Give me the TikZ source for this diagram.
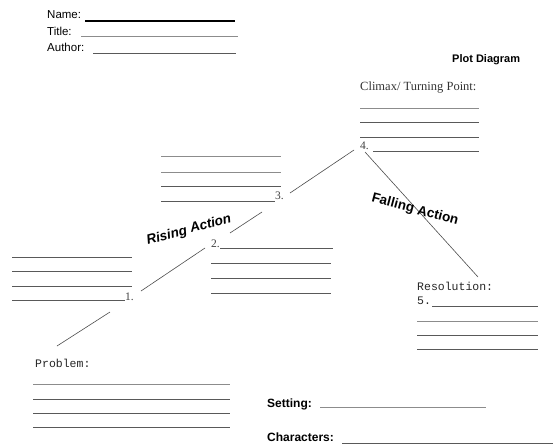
\documentclass[tikz,border=0pt]{standalone}
\usepackage{fontspec}
\setmainfont{Liberation Sans}
\newfontfamily\serifnum{Liberation Serif}
\newfontfamily\typewr{Liberation Mono}
\usepackage{xcolor}
\definecolor{rulegray}{rgb}{0.35,0.35,0.35}
\definecolor{lightrule}{rgb}{0.55,0.55,0.55}
\definecolor{plotgray}{rgb}{0.3,0.3,0.3}
\tikzset{
  rule/.style={rulegray,line width=0.9pt},
  lrule/.style={lightrule,line width=0.9pt},
  plotline/.style={plotgray,line width=0.6pt},
  hand/.style={anchor=base west,inner sep=0pt,font=\fontsize{11.5}{13}\selectfont},
  numtxt/.style={anchor=base west,inner sep=0pt,text=black!75,font=\serifnum\fontsize{11.5}{13}\selectfont},
  monotxt/.style={anchor=base west,inner sep=0pt,text=black!85,font=\typewr\fontsize{11.5}{13}\selectfont},
  arttxt/.style={inner sep=0pt,font=\bfseries\fontsize{13.5}{15}\selectfont}
}

\begin{document}
\begin{tikzpicture}[x=1pt,y=-1pt]
        \useasboundingbox (0,0) rectangle (553,444);
        % header
        \node[hand] (name) at (47,19) {Name:};
        \node[hand] (title) at (47,35) {Title:};
        \node[hand] (author) at (47,52) {Author:};
        \draw[black,line width=1.1pt] (85,21) -- (235,21);
        \draw[lrule] (81,36) -- (238,36);
        \draw[rule] (93,53) -- (236,53);
        \node[hand,font=\bfseries\fontsize{11}{13}\selectfont] (plotdiagram) at (452,62) {Plot Diagram};
        % climax
        \node[numtxt,text=black!80,font=\serifnum\fontsize{12.5}{14}\selectfont] (climax) at (360,90) {Climax/ Turning Point:};
        \draw[lrule] (360,108) -- (479,108);
        \draw[rule] (360,122) -- (479,122);
        \draw[rule] (360,137) -- (479,137);
        \node[numtxt] (pfour) at (360,149) {4.};
        \draw[rule] (373,151) -- (479,151);
        % point 3
        \draw[lrule] (161,156) -- (281,156);
        \draw[lrule] (161,172) -- (281,172);
        \draw[rule] (161,186) -- (281,186);
        \draw[rule] (161,201) -- (275,201);
        \node[numtxt] (pthree) at (275,199) {3.};
        % point 2
        \node[numtxt] (ptwo) at (211,247) {2.};
        \draw[rule] (220,248) -- (333,248);
        \draw[rule] (211,263) -- (331,263);
        \draw[rule] (211,278) -- (331,278);
        \draw[rule] (211,293) -- (331,293);
        % point 1
        \draw[rule] (12,257) -- (132,257);
        \draw[rule] (12,271) -- (132,271);
        \draw[rule] (12,286) -- (132,286);
        \draw[rule] (12,300) -- (125,300);
        \node[numtxt] (pone) at (125,300) {1.};
        % resolution
        \node[monotxt] (resolution) at (417,290) {Resolution:};
        \node[monotxt] (pfive) at (417,304) {5.};
        \draw[rule] (432,306) -- (538,306);
        \draw[lrule] (417,321) -- (538,321);
        \draw[rule] (417,335) -- (538,335);
        \draw[rule] (417,349) -- (538,349);
        % problem
        \node[monotxt] (problem) at (35,367) {Problem:};
        \draw[lrule] (33,384) -- (230,384);
        \draw[rule] (33,399) -- (230,399);
        \draw[rule] (33,413) -- (230,413);
        \draw[rule] (33,427) -- (230,427);
        % setting, characters
        \node[hand,font=\bfseries\fontsize{12}{14}\selectfont] (setting) at (267,407) {Setting:};
        \draw[lrule] (320,407) -- (486,407);
        \node[hand,font=\bfseries\fontsize{12}{14}\selectfont] (characters) at (267,441) {Characters:};
        \draw[rule] (342,443) -- (553,443);
        % plot line
        \coordinate (sa) at (57,346);
        \coordinate (sb) at (110,312);
        \coordinate (sc) at (141,291);
        \coordinate (sd) at (205,248);
        \coordinate (se) at (230,233);
        \coordinate (sf) at (262,212);
        \coordinate (sg) at (290,193);
        \coordinate (sh) at (354,150);
        \coordinate (fa) at (365,152);
        \coordinate (fb) at (478,277);
        \draw[plotline] (sa) -- (sb);
        \draw[plotline] (sc) -- (sd);
        \draw[plotline] (se) -- (sf);
        \draw[plotline] (sg) -- (sh);
        \draw[plotline] (fa) -- (fb);
        % labels
        \node[arttxt,font=\bfseries\itshape\fontsize{13.5}{15}\selectfont,rotate=15] (rising) at (189,230) {Rising Action};
        \node[arttxt,rotate=-15] (falling) at (415,210) {Falling Action};
    \end{tikzpicture}
\end{document}
